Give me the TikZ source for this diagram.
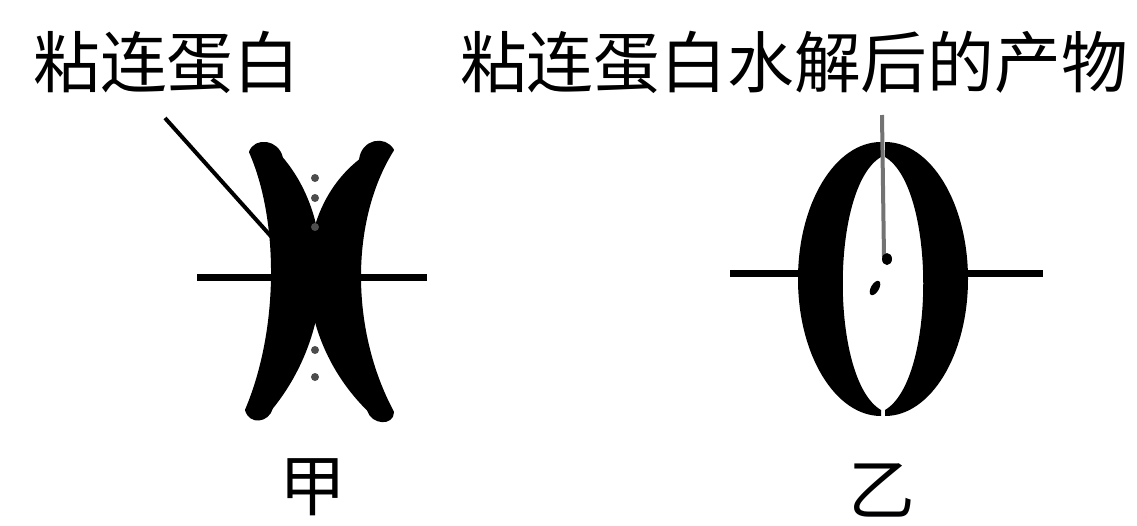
\documentclass[tikz,border=0pt]{standalone}
\usepackage{fontspec}
\newfontfamily\cjk{Noto Sans CJK SC}
\tikzset{
  lbl/.style={font=\cjk\fontsize{38}{40}\selectfont, inner sep=0pt},
  body/.style={fill=black, draw=black, line width=0.04cm, line join=round},
  axis/.style={line width=0.14cm},
  lead/.style={line width=0.08cm},
  dot/.style={fill=black!70}
}
\begin{document}
\begin{tikzpicture}[x=0.02cm, y=-0.02cm]
  \useasboundingbox (0,0) rectangle (1137,525);

  % labels
  \node[lbl] (tagA) at (167,62) {粘连蛋白};
  \node[lbl] (tagB) at (794,62) {粘连蛋白水解后的产物};
  \node[lbl] (nameA) at (313,487) {甲};
  \node[lbl] (nameB) at (882,490) {乙};

  % left figure: two crescents crossing
  \coordinate (jiaL) at (197,277);
  \coordinate (jiaR) at (427,277);
  \draw[axis] (jiaL) -- (jiaR);
  \filldraw[body] (250,152) .. controls (280,220) and (280,330) .. (246,410)
    .. controls (250,424) and (268,422) .. (272,408)
    .. controls (335,330) and (335,220) .. (282,158)
    .. controls (278,140) and (255,138) .. cycle;
  \filldraw[body] (393,150) .. controls (349,220) and (349,330) .. (393,412)
    .. controls (393,425) and (372,424) .. (368,410)
    .. controls (292,335) and (290,215) .. (360,160)
    .. controls (362,140) and (385,136) .. cycle;
  \foreach \y in {178,198,227,350,377}
    \fill[dot] (315,\y) ellipse[x radius=4, y radius=4];
  \coordinate (tagAfoot) at (165,118);
  \coordinate (tagAtip) at (277,243);
  \draw[lead] (tagAfoot) -- (tagAtip);

  % right figure: ring split in two halves
  \coordinate (yiL) at (730,273);
  \coordinate (yiR) at (1043,273);
  \coordinate (ringL) at (805,273);
  \coordinate (ringR) at (961,273);
  \draw[axis] (yiL) -- (ringL);
  \draw[axis] (ringR) -- (yiR);
  \fill (881,142) arc[start angle=270, end angle=90, x radius=83, y radius=137]
    -- (881,410) .. controls (830,380) and (830,187) .. (881,157) -- cycle;
  \fill (885,142) arc[start angle=-90, end angle=90, x radius=83, y radius=137]
    -- (885,410) .. controls (936,380) and (936,187) .. (885,157) -- cycle;
  \coordinate (yiTop) at (882,115);
  \coordinate (yiEnd) at (884,257);
  \draw[lead, black!55] (yiTop) -- (yiEnd);
  \fill (887,259) ellipse[x radius=5, y radius=6];
  \fill[rotate around={-30:(875,288)}] (875,288) ellipse[x radius=4, y radius=8];
\end{tikzpicture}
\end{document}
